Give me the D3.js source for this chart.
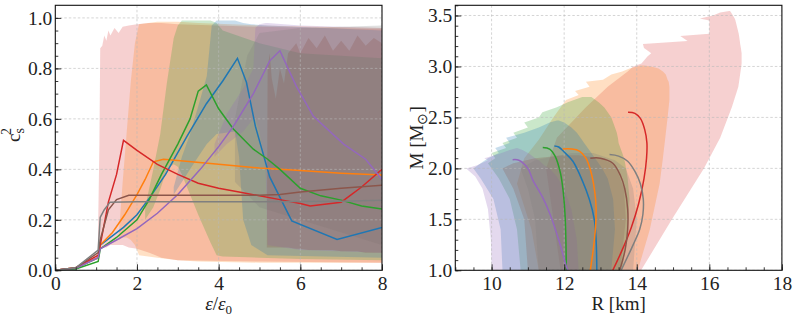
<!DOCTYPE html>
<html>
<head>
<meta charset="utf-8">
<script src="https://cdn.jsdelivr.net/npm/d3@7"></script>
<style>
  body { margin: 0; background: #fff; }
</style>
</head>
<body>
<svg id="chart" width="797" height="320"></svg>
<script>
// ---- left panel: sound speed squared vs energy density ----
const csBlue   = [[0,0],[0.5,0.008],[1.05,0.05],[1.1,0.1],[1.67,0.17],[2.0,0.22],[2.32,0.29],[2.7,0.38],[3.22,0.53],[3.7,0.66],[4.1,0.75],[4.46,0.84],[4.68,0.745],[4.9,0.57],[5.25,0.37],[5.79,0.196],[6.9,0.122],[8.0,0.17]];
const csOrange = [[0,0],[0.5,0.01],[1.05,0.05],[1.1,0.1],[1.4,0.15],[1.7,0.22],[2.0,0.3],[2.2,0.36],[2.4,0.43],[2.65,0.44],[3.0,0.435],[4.0,0.42],[5.0,0.405],[6.0,0.395],[7.0,0.385],[8.0,0.378]];
const csGreen  = [[0,0],[0.5,0.005],[1.05,0.035],[1.1,0.085],[1.5,0.13],[2.0,0.2],[2.3,0.28],[2.6,0.38],[3.0,0.5],[3.3,0.6],[3.5,0.71],[3.7,0.735],[4.0,0.64],[4.36,0.56],[4.85,0.48],[5.2,0.44],[5.5,0.4],[6.0,0.325],[6.5,0.295],[7.0,0.278],[7.5,0.255],[8.0,0.243]];
const csRed    = [[0,0],[0.5,0.01],[1.05,0.06],[1.1,0.1],[1.3,0.27],[1.5,0.38],[1.67,0.515],[2.0,0.475],[2.5,0.42],[3.0,0.38],[3.5,0.345],[4.0,0.325],[4.5,0.31],[5.0,0.295],[5.5,0.28],[6.0,0.265],[6.24,0.255],[7.0,0.27],[7.5,0.33],[8.0,0.40]];
const csPurple = [[0,0],[0.5,0.008],[1.05,0.05],[1.1,0.085],[1.5,0.12],[2.0,0.165],[2.5,0.226],[3.0,0.3],[3.55,0.4],[4.0,0.49],[4.36,0.57],[4.85,0.7],[5.25,0.83],[5.5,0.87],[5.9,0.73],[6.32,0.61],[7.06,0.5],[7.6,0.44],[8.0,0.36]];
const csBrown  = [[0,0],[0.5,0.01],[1.05,0.07],[1.1,0.12],[1.3,0.24],[1.5,0.28],[1.8,0.297],[3.0,0.297],[5.0,0.297],[5.5,0.3],[6.0,0.31],[7.0,0.325],[8.0,0.337]];
const csGray   = [[0,0],[0.5,0.01],[1.05,0.08],[1.1,0.21],[1.2,0.24],[1.34,0.27],[2.0,0.272],[5.0,0.272],[7.0,0.274],[8.0,0.278]];

// bands: [eps, lower, upper]
const bandRed    = [[1.04,0.07,0.08],[1.08,0.08,0.5],[1.1,0.085,0.88],[1.15,0.09,0.89],[1.2,0.09,0.93],[1.25,0.09,0.91],[1.3,0.095,0.95],[1.35,0.1,0.93],[1.45,0.1,0.96],[1.55,0.1,0.94],[1.65,0.1,0.965],[1.8,0.09,0.97],[2.0,0.085,0.975],[2.3,0.07,0.98],[2.6,0.05,0.98],[3.0,0.04,0.975],[5.0,0.035,0.965],[8.0,0.03,0.955]];
const bandOrange = [[1.55,0.12,0.13],[1.65,0.13,0.35],[1.75,0.13,0.55],[1.85,0.12,0.75],[1.95,0.1,0.9],[2.05,0.06,0.975],[2.5,0.05,0.985],[3.0,0.04,0.985],[3.5,0.035,0.98],[5.0,0.03,0.97],[8.0,0.03,0.96]];
const bandGreen  = [[2.2,0.2,0.25],[2.4,0.25,0.4],[2.57,0.32,0.54],[2.73,0.4,0.74],[2.9,0.42,0.92],[3.0,0.41,0.97],[3.1,0.38,0.99],[3.5,0.22,0.99],[3.8,0.11,0.99],[3.95,0.06,0.98],[4.1,0.055,0.95],[5.0,0.05,0.9],[6.0,0.045,0.86],[8.0,0.04,0.84]];
const bandBlue   = [[2.9,0.3,0.33],[3.1,0.35,0.45],[3.3,0.4,0.54],[3.5,0.45,0.65],[3.71,0.5,0.77],[3.83,0.52,0.97],[3.95,0.54,0.99],[4.4,0.55,0.99],[4.5,0.45,0.985],[4.6,0.2,0.98],[4.8,0.1,0.975],[5.2,0.06,0.97],[8.0,0.05,0.95]];
const bandPurple = [[3.9,0.45,0.5],[4.2,0.5,0.62],[4.6,0.55,0.72],[4.85,0.6,0.8],[4.9,0.6,0.96],[5.0,0.55,0.975],[5.15,0.4,0.98],[5.2,0.1,0.98],[6.0,0.08,0.97],[8.0,0.07,0.96]];
const bandBrown  = [[5.18,0.09,0.1],[5.2,0.09,0.8],[5.25,0.09,0.86],[5.3,0.09,0.76],[5.4,0.09,0.68],[5.5,0.09,0.8],[5.6,0.09,0.74],[5.7,0.09,0.86],[5.9,0.085,0.9],[6.0,0.085,0.86],[6.2,0.08,0.92],[6.4,0.08,0.88],[6.6,0.08,0.93],[6.8,0.08,0.87],[7.0,0.075,0.91],[7.2,0.075,0.87],[7.4,0.075,0.93],[7.6,0.07,0.89],[7.8,0.07,0.92],[8.0,0.07,0.9]];
const bandGray   = [[4.4,0.35,0.6],[4.7,0.3,0.85],[5.0,0.25,0.94],[6.0,0.2,0.96],[8.0,0.1,0.97]];

// ---- right panel: mass-radius, [R, M] ----
const mrBlue   = [[11.73,2.22],[11.85,2.21],[12.0,2.16],[12.24,2.07],[12.5,1.88],[12.7,1.69],[12.83,1.5],[12.88,1.3],[12.9,1.0]];
const mrOrange = [[11.96,2.19],[12.2,2.19],[12.42,2.17],[12.6,2.1],[12.75,1.95],[12.85,1.75],[12.88,1.6],[12.86,1.4],[12.8,1.2],[12.72,1.0]];
const mrGreen  = [[11.41,2.205],[11.6,2.19],[11.75,2.12],[11.9,1.95],[11.98,1.75],[12.03,1.5],[12.05,1.25],[12.06,1.0]];
const mrRed    = [[13.76,2.55],[13.95,2.54],[14.1,2.49],[14.22,2.38],[14.28,2.25],[14.27,2.1],[14.2,1.9],[14.05,1.65],[13.85,1.42],[13.6,1.2],[13.34,1.0]];
const mrPurple = [[10.58,2.085],[10.75,2.08],[11.0,2.0],[11.13,1.89],[11.4,1.72],[11.6,1.56],[11.85,1.3],[12.05,1.05],[12.1,1.0]];
const mrBrown  = [[12.72,2.1],[13.0,2.1],[13.34,2.05],[13.55,1.93],[13.67,1.8],[13.75,1.6],[13.75,1.4],[13.68,1.2],[13.53,1.0]];
const mrGray   = [[13.25,2.135],[13.5,2.12],[13.75,2.07],[13.95,1.97],[14.1,1.85],[14.18,1.7],[14.17,1.55],[14.08,1.4],[13.9,1.25],[13.57,1.0]];

// bands: [M, Rmin, Rmax]
const mrBandRed    = [[1.0,11.9,14.12],[1.5,11.7,14.97],[2.0,11.5,15.85],[2.3,11.8,16.3],[2.6,12.6,16.62],[2.8,13.2,16.8],[2.95,13.75,16.86],[3.0,13.9,16.88],[3.03,14.13,16.89],[3.1,14.3,16.89],[3.13,14.4,16.89],[3.18,14.2,16.87],[3.22,14.17,16.85],[3.25,15.4,16.84],[3.3,15.2,16.82],[3.32,16.0,16.81],[3.45,16.0,16.72],[3.47,15.74,16.7],[3.5,16.1,16.65],[3.53,16.3,16.6],[3.545,16.55,16.57]];
const mrBandOrange = [[1.0,11.3,14.03],[1.4,11.1,14.36],[1.85,10.7,14.63],[2.1,10.9,14.72],[2.28,11.3,14.78],[2.5,11.7,14.85],[2.67,12.05,14.9],[2.72,12.4,14.9],[2.76,12.3,14.9],[2.8,12.7,14.9],[2.85,12.6,14.88],[2.87,13.07,14.85],[2.92,13.3,14.8],[2.95,13.6,14.72],[2.98,13.8,14.6],[3.0,14.0,14.4],[3.01,14.1,14.2]];
const mrBandGreen  = [[1.0,10.8,13.6],[1.4,10.7,13.75],[1.7,10.5,13.8],[1.9,10.2,13.75],[2.05,9.9,13.68],[2.1,10.1,13.65],[2.15,10.0,13.6],[2.2,10.4,13.55],[2.25,10.3,13.5],[2.3,10.7,13.48],[2.35,10.6,13.45],[2.4,11.0,13.4],[2.45,10.9,13.35],[2.5,11.3,13.3],[2.55,11.4,13.2],[2.6,11.8,13.1],[2.65,12.1,12.95],[2.7,12.5,12.75]];
const mrBandBlue   = [[1.0,10.3,13.3],[1.4,10.25,13.4],[1.7,10.05,13.35],[1.9,9.7,13.2],[2.0,9.5,13.05],[2.05,9.7,12.95],[2.1,9.9,12.85],[2.15,10.2,12.75],[2.2,10.1,12.65],[2.25,10.5,12.55],[2.3,10.4,12.45],[2.35,10.9,12.35],[2.4,11.3,12.2],[2.45,11.6,12.0],[2.47,11.8,11.85]];
const mrBandPurple = [[1.0,10.0,12.4],[1.3,9.98,12.35],[1.6,9.9,12.2],[1.8,9.75,12.0],[1.92,9.55,11.8],[2.0,9.3,11.6],[2.03,9.6,11.45],[2.08,9.9,11.3],[2.1,9.8,11.2],[2.14,10.2,11.05],[2.18,10.5,10.85],[2.2,10.7,10.7]];
const mrBandBrown  = [[1.0,11.0,13.55],[1.5,10.9,13.7],[1.8,10.6,13.65],[2.0,10.3,13.45],[2.05,10.6,13.3],[2.1,11.2,13.0],[2.13,12.0,12.4]];
const mrBandGray   = [[1.0,11.3,13.9],[1.5,11.2,14.0],[1.8,11.0,13.9],[2.0,10.8,13.7],[2.08,11.2,13.4],[2.15,12.2,12.8]];

const colors = { blue: "#1f77b4", orange: "#ff7f0e", green: "#2ca02c", red: "#d62728", purple: "#9467bd", brown: "#8c564b", gray: "#7f7f7f" };
const serif = "'Liberation Serif', 'Times New Roman', serif";

const leftBands  = [["red", bandRed], ["orange", bandOrange], ["green", bandGreen], ["blue", bandBlue], ["purple", bandPurple], ["gray", bandGray], ["brown", bandBrown]];
const leftLines  = [["blue", csBlue], ["orange", csOrange], ["green", csGreen], ["red", csRed], ["purple", csPurple], ["brown", csBrown], ["gray", csGray]];
const rightBands = [["red", mrBandRed], ["orange", mrBandOrange], ["green", mrBandGreen], ["blue", mrBandBlue], ["purple", mrBandPurple], ["brown", mrBandBrown], ["gray", mrBandGray]];
const rightLines = [["blue", mrBlue], ["orange", mrOrange], ["green", mrGreen], ["red", mrRed], ["purple", mrPurple], ["brown", mrBrown], ["gray", mrGray]];

const svg = d3.select("#chart");
const plotTop = 5.3, plotBottom = 270.3;

function panel(id, x, y, xMajor, xMinor, yMajor, yMinor, fmt) {
    const g = svg.append("g");
    const [x0, x1] = x.range();
    g.append("clipPath").attr("id", id).append("rect")
        .attr("x", x0).attr("y", plotTop).attr("width", x1 - x0).attr("height", plotBottom - plotTop);
    const plot = g.append("g").attr("clip-path", `url(#${id})`);
    const bands = plot.append("g");
    const grid = plot.append("g");
    xMajor.forEach(v => grid.append("line").attr("x1", x(v)).attr("x2", x(v)).attr("y1", plotTop).attr("y2", plotBottom));
    yMajor.forEach(v => grid.append("line").attr("x1", x0).attr("x2", x1).attr("y1", y(v)).attr("y2", y(v)));
    grid.selectAll("line").attr("stroke", "#b8b8b8").attr("stroke-width", 0.6).attr("stroke-dasharray", "2.5,2");
    const lines = plot.append("g");

    // axes, ticks pointing inward
    g.append("g").attr("transform", `translate(0,${plotBottom})`)
        .call(d3.axisBottom(x).tickValues(xMinor).tickSize(-3).tickFormat(""));
    g.append("g").attr("transform", `translate(0,${plotBottom})`)
        .call(d3.axisBottom(x).tickValues(xMajor).tickSize(-6).tickPadding(6).tickFormat(d3.format("d")));
    g.append("g").attr("transform", `translate(${x0},0)`)
        .call(d3.axisLeft(y).tickValues(yMinor).tickSize(-3).tickFormat(""));
    g.append("g").attr("transform", `translate(${x0},0)`)
        .call(d3.axisLeft(y).tickValues(yMajor).tickSize(-6).tickPadding(3).tickFormat(fmt));
    g.selectAll(".domain").remove();
    g.selectAll(".tick line").attr("stroke", "#222").attr("stroke-width", 0.9);
    g.selectAll(".tick text").attr("font-size", 19.5).style("font-family", serif).attr("fill", "#222");
    g.append("rect").attr("x", x0).attr("y", plotTop).attr("width", x1 - x0).attr("height", plotBottom - plotTop)
        .attr("fill", "none").attr("stroke", "#111").attr("stroke-width", 1.1);
    return { g, bands, lines };
}

// left
const xL = d3.scaleLinear().domain([0, 8]).range([55.3, 382]);
const yL = d3.scaleLinear().domain([0, 1.05]).range([plotBottom, plotTop]);
const L = panel("clipL", xL, yL, d3.range(0, 8.01, 2), d3.range(0, 8.01, 0.5), d3.range(0, 1.01, 0.2), d3.range(0, 1.05, 0.05), d3.format(".1f"));

const areaL = d3.area().x(d => xL(d[0])).y0(d => yL(d[1])).y1(d => yL(d[2]));
leftBands.forEach(([c, data]) => {
    L.bands.append("path").attr("d", areaL(data)).attr("fill", colors[c])
        .attr("fill-opacity", c === "brown" ? 0.26 : (c === "red" ? 0.22 : 0.24));
});
const lineL = d3.line().x(d => xL(d[0])).y(d => yL(d[1]));
leftLines.forEach(([c, data]) => {
    L.lines.append("path").attr("d", lineL(data)).attr("fill", "none").attr("stroke", colors[c]).attr("stroke-width", 1.5);
});

// right
const xR = d3.scaleLinear().domain([9, 18]).range([455.3, 781.9]);
const yR = d3.scaleLinear().domain([1, 3.6]).range([plotBottom, plotTop]);
const R = panel("clipR", xR, yR, d3.range(10, 18.01, 2), d3.range(9, 18.01, 0.5), d3.range(1, 3.51, 0.5), d3.range(1, 3.61, 0.1), d3.format(".1f"));

const areaR = d3.area().y(d => yR(d[0])).x0(d => xR(d[1])).x1(d => xR(d[2]));
rightBands.forEach(([c, data]) => {
    R.bands.append("path").attr("d", areaR(data)).attr("fill", colors[c])
        .attr("fill-opacity", c === "red" ? 0.22 : 0.25);
});
const lineR = d3.line().x(d => xR(d[0])).y(d => yR(d[1])).curve(d3.curveCatmullRom);
rightLines.forEach(([c, data]) => {
    R.lines.append("path").attr("d", lineR(data)).attr("fill", "none").attr("stroke", colors[c]).attr("stroke-width", 1.5);
});

// axis labels
const lab = svg.append("g").attr("font-size", 19).style("font-family", serif).attr("fill", "#222");
const xl = lab.append("text").attr("x", 218.6).attr("y", 310).attr("text-anchor", "middle");
xl.append("tspan").attr("font-style", "italic").text("ε");
xl.append("tspan").text("/");
xl.append("tspan").attr("font-style", "italic").text("ε");
xl.append("tspan").attr("font-size", 13).attr("dy", 4).text("0");

const yl = lab.append("text").attr("transform", "translate(20,135) rotate(-90)").attr("text-anchor", "middle");
yl.append("tspan").text("c");
yl.append("tspan").attr("font-size", 14).attr("dy", 4).text("s");
yl.append("tspan").attr("font-size", 14).attr("dy", -13).attr("dx", -7).text("2");

lab.append("text").attr("x", 618.6).attr("y", 310).attr("text-anchor", "middle").text("R [km]");

const ml = lab.append("text").attr("transform", "translate(423,137.8) rotate(-90)").attr("text-anchor", "middle");
ml.append("tspan").text("M [M");
ml.append("tspan").attr("font-size", 14).attr("dy", 4).text("⊙");
ml.append("tspan").attr("dy", -4).text("]");
</script>
</body>
</html>
